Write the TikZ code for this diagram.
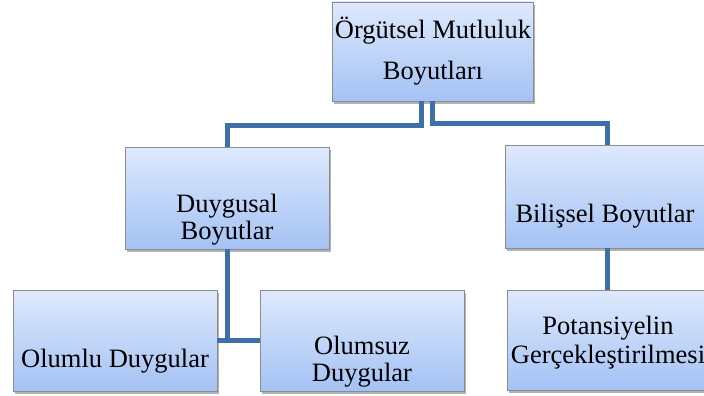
\documentclass[tikz,border=0pt]{standalone}
\usepackage{fontspec}
\setmainfont{Liberation Serif}
\usetikzlibrary{shadows}
\definecolor{boxtop}{RGB}{222,233,252}
\definecolor{boxbottom}{RGB}{164,194,244}
\definecolor{boxline}{RGB}{140,140,140}
\definecolor{connline}{RGB}{62,111,168}
\newcommand{\boxfont}[1]{\fontsize{26.5}{#1}\selectfont}
\begin{document}
\begin{tikzpicture}[x=1pt, y=-1pt,
        box/.style={rectangle, draw=boxline, line width=0.8pt, top color=boxtop, bottom color=boxbottom,
                minimum width=204pt, minimum height=101pt, inner sep=0pt,
                drop shadow={shadow xshift=2pt, shadow yshift=-3pt, fill=black, opacity=0.3}},
        label/.style={align=center, anchor=base, inner sep=0pt},
        conn/.style={draw=connline, line width=5pt}]
        \useasboundingbox (0,0) rectangle (704,396);
        \clip (0,0) rectangle (704,396);
        \node[box, minimum width=201pt, minimum height=99pt] (root) at (432.5, 51.5) {};
        \node[box, minimum height=102pt] (duygusal) at (227, 198) {};
        \node[box, minimum height=103pt] (bilissel) at (607, 196.5) {};
        \node[box] (olumlu) at (115, 340.5) {};
        \node[box] (olumsuz) at (362, 340.5) {};
        \node[box, minimum height=100pt] (potansiyel) at (609, 340) {};
        \node[label, font=\boxfont{41}] (root-t) at (433, 80) {Örgütsel Mutluluk\\Boyutları};
        \node[label, font=\boxfont{26.7}] (duygusal-t) at (227, 239.3) {Duygusal\\Boyutlar};
        \node[label, font=\boxfont{27}] (bilissel-t) at (605, 222) {Bilişsel Boyutlar};
        \node[label, font=\boxfont{27}] (olumlu-t) at (115, 367) {Olumlu Duygular};
        \node[label, font=\boxfont{27}] (olumsuz-t) at (362, 381) {Olumsuz\\Duygular};
        \node[label, font=\boxfont{29}] (potansiyel-t) at (608, 363) {Potansiyelin\\Gerçekleştirilmesi};
        \draw[conn] ([xshift=-11pt]root.south) -- ++(0,24) -| (duygusal.north);
        \draw[conn] ([xshift=-0.5pt]root.south) -- ++(0,22) -| (bilissel.north);
        \draw[conn] (duygusal.south) -- (duygusal.south |- olumlu.east);
        \draw[conn] (olumlu.east) -- (olumsuz.west);
        \draw[conn] (bilissel.south) -- (bilissel.south |- potansiyel.north);
      \end{tikzpicture}
\end{document}
